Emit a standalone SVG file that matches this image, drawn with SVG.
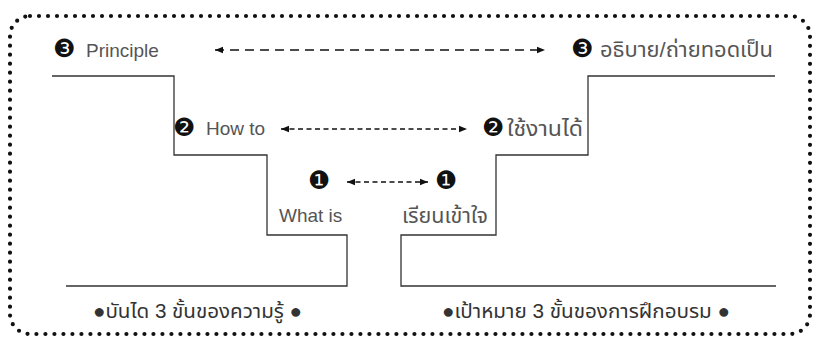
<svg xmlns="http://www.w3.org/2000/svg" width="817" height="340" viewBox="0 0 817 340">
<defs>
<style>
.t{font-family:"Liberation Sans","Noto Sans Thai","Noto Sans",sans-serif;font-size:19px;fill:#555}
.th{font-family:"Liberation Sans","Noto Sans Thai","Noto Sans",sans-serif;font-size:21px;fill:#555}
.n{font-family:"DejaVu Sans",sans-serif;font-size:25px;fill:#111}
.b{font-family:"Liberation Sans","Noto Sans Thai","Noto Sans",sans-serif;font-size:20px;fill:#333}
.step{fill:none;stroke:#333;stroke-width:1.3}
.arr{fill:none;stroke:#111;stroke-width:1.6}
.border{fill:none;stroke:#111;stroke-width:4.2;stroke-linecap:round;stroke-dasharray:0 9}
</style>
<marker id="ah" viewBox="0 0 10 10" refX="10" refY="5" markerWidth="8" markerHeight="8" markerUnits="userSpaceOnUse" orient="auto-start-reverse">
<path d="M0,1 L10,5 L0,9 z" fill="#111"/>
</marker>
</defs>
<rect class="border" x="10" y="16" width="800" height="318" rx="20" ry="20"/>
<g id="stairs-left">
<path class="step" d="M52,76 H174 V155 H267 V235 H347 V286 H66"/>
</g>
<g id="stairs-right">
<path class="step" d="M775,76 H588 V155 H496 V235 H401 V286 H776"/>
</g>
<g id="connectors">
<line class="arr" x1="215" y1="50" x2="545" y2="50" stroke-dasharray="9 6" marker-start="url(#ah)" marker-end="url(#ah)"/>
<line class="arr" x1="281" y1="129" x2="467" y2="129" stroke-dasharray="5 3.5" marker-start="url(#ah)" marker-end="url(#ah)"/>
<line class="arr" x1="347" y1="182" x2="428" y2="182" stroke-dasharray="5 3.5" marker-start="url(#ah)" marker-end="url(#ah)"/>
</g>
<g id="principle">
<text class="n" x="53" y="57">❸</text>
<text class="t" x="86" y="57">Principle</text>
</g>
<g id="explain">
<text class="n" x="571" y="57">❸</text>
<text class="th" x="600" y="57" textLength="173" lengthAdjust="spacingAndGlyphs">อธิบาย/ถ่ายทอดเป็น</text>
</g>
<g id="howto">
<text class="n" x="173" y="136">❷</text>
<text class="t" x="206" y="135">How to</text>
</g>
<g id="use">
<text class="n" x="482" y="136">❷</text>
<text class="th" x="507" y="136" textLength="76" lengthAdjust="spacingAndGlyphs">ใช้งานได้</text>
</g>
<g id="whatis">
<text class="n" x="308" y="189">❶</text>
<text class="t" x="279" y="222">What is</text>
</g>
<g id="understand">
<text class="n" x="435" y="189">❶</text>
<text class="th" x="402" y="223" textLength="86" lengthAdjust="spacingAndGlyphs">เรียนเข้าใจ</text>
</g>
<g id="caption-left">
<text class="b" x="93" y="318" textLength="209" lengthAdjust="spacingAndGlyphs">●บันได 3 ขั้นของความรู้ ●</text>
</g>
<g id="caption-right">
<text class="b" x="442" y="318" textLength="288" lengthAdjust="spacingAndGlyphs">●เป้าหมาย 3 ขั้นของการฝึกอบรม ●</text>
</g>
</svg>
